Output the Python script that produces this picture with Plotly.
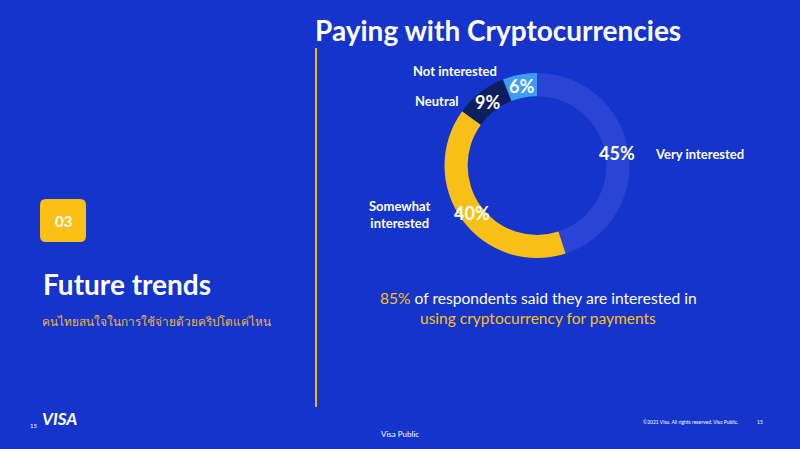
import math
import plotly.graph_objects as go

categories = ["Very interested", "Somewhat interested", "Neutral", "Not interested"]
values = [45, 40, 9, 6]
colors = ["#2a45d6", "#f8bf16", "#0e1f5e", "#3d9cf5"]

BG = "#1434cb"
YEL = "#fcc015"
FONT = "Lato"
W, H = 800, 449

# donut geometry (pixels)
CX, CY, R_OUT = 537, 165.5, 92.5
HOLE = 0.75

fig = go.Figure()
fig.add_trace(go.Pie(
    labels=categories, values=values, sort=False, direction="clockwise",
    rotation=0, hole=HOLE,
    marker=dict(colors=colors, line=dict(width=0)),
    textinfo="none",
    domain=dict(x=[(CX-R_OUT)/W, (CX+R_OUT)/W], y=[1-(CY+R_OUT)/H, 1-(CY-R_OUT)/H]),
    showlegend=False, hoverinfo="label+percent",
))

ann = []
def A(x, y, text, size, color="white", bold=False, xanchor="center", align="center", family=FONT):
    ann.append(dict(x=x/W, y=1-y/H, xref="paper", yref="paper", text=text,
                    showarrow=False, xanchor=xanchor, yanchor="middle", align=align,
                    font=dict(family=family, size=size, color=color, weight="bold" if bold else "normal")))

# percentage labels at the middle of each slice (from the data)
total = sum(values)
r_mid = R_OUT * (1 + HOLE) / 2
cum = 0
for v in values:
    ang = 2 * math.pi * (cum + v / 2) / total
    cum += v
    A(CX + r_mid * math.sin(ang), CY - r_mid * math.cos(ang), f"{v}%", 18, bold=True)

A(498, 30, "Paying with Cryptocurrencies", 28, bold=True)
A(455, 71, categories[3], 13, bold=True)
A(437, 101, categories[2], 13, bold=True)
A(699, 154, categories[0], 13, bold=True)
A(400, 214, "Somewhat<br>interested", 13, bold=True)
A(538, 298, f"<span style='color:{YEL}'>{values[0]+values[1]}%</span> of respondents said they are interested in", 15.6)
A(538, 318, "using cryptocurrency for payments", 15.5, color=YEL)
A(63, 221, "03", 15, bold=True)
A(41, 284, "Future trends", 28, bold=True, xanchor="left")
A(40, 321, "คนไทยสนใจในการใช้จ่ายด้วยคริปโตแค่ไหน", 11.8, color="#f0b73c", xanchor="left")
A(33, 425, "15", 6)
A(40, 418, "<i>VISA</i>", 17, bold=True, xanchor="left")
A(690, 422, "©2021 Visa. All rights reserved. Visa Public.", 5, xanchor="center")
A(760, 422, "15", 5)
A(400, 434, "Visa Public", 8)

def rounded_rect(x0, y0, x1, y1, r):
    # pixel coords -> paper path
    px = lambda x: x / W
    py = lambda y: 1 - y / H
    return (f"M {px(x0+r)},{py(y0)} L {px(x1-r)},{py(y0)} Q {px(x1)},{py(y0)} {px(x1)},{py(y0+r)} "
            f"L {px(x1)},{py(y1-r)} Q {px(x1)},{py(y1)} {px(x1-r)},{py(y1)} "
            f"L {px(x0+r)},{py(y1)} Q {px(x0)},{py(y1)} {px(x0)},{py(y1-r)} "
            f"L {px(x0)},{py(y0+r)} Q {px(x0)},{py(y0)} {px(x0+r)},{py(y0)} Z")

shapes = [
    dict(type="line", xref="paper", yref="paper", x0=316/W, x1=316/W,
         y0=1-48/H, y1=1-407/H, line=dict(color="#f2b700", width=2)),
    dict(type="path", xref="paper", yref="paper", path=rounded_rect(40, 199, 86, 242, 6),
         fillcolor=YEL, line=dict(width=0), layer="below"),
]

fig.update_layout(
    width=W, height=H, margin=dict(l=0, r=0, t=0, b=0),
    paper_bgcolor=BG, plot_bgcolor=BG,
    annotations=ann, shapes=shapes,
)
fig.write_html("out.html", config={"displayModeBar": False})
